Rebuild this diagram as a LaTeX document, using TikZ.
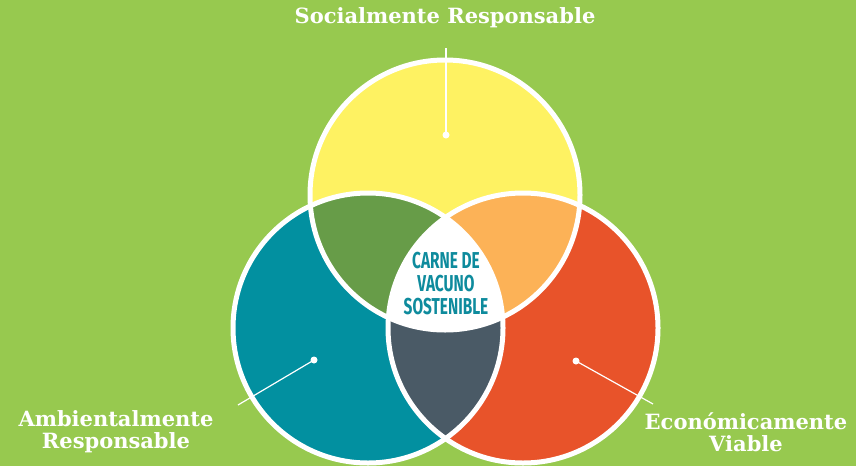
\documentclass[tikz,border=0pt]{standalone}
\usepackage{fontspec}
\setmainfont{DejaVu Serif}
\newfontfamily\condfont{Fira Sans}
\definecolor{bg}{HTML}{97C94F}
\definecolor{cyel}{HTML}{FEF262}
\definecolor{cteal}{HTML}{0290A0}
\definecolor{cred}{HTML}{E8532A}
\definecolor{cdkgreen}{HTML}{679C48}
\definecolor{corange}{HTML}{FCB257}
\definecolor{cslate}{HTML}{4A5A66}
\definecolor{ctext}{HTML}{0E8B9D}
\begin{document}
\begin{tikzpicture}[x=1pt,y=-1pt,
  ring/.style={draw=white,line width=5pt},
  label/.style={text=white,font=\bfseries\fontsize{21}{22}\selectfont,align=center,inner sep=0pt},
  center text/.style={text=ctext,inner sep=0pt,font=\condfont\bfseries\fontsize{23}{23}\selectfont},
  leader/.style={draw=white,line width=1.2pt},
  dot/.style={circle,fill=white,inner sep=0pt,minimum size=7pt}]
\useasboundingbox (0,0) rectangle (856,466);
\fill[bg] (0,0) rectangle (856,466);
\coordinate (T) at (445,195);
\coordinate (L) at (368,328);
\coordinate (R) at (523,328);
\def\rad{135}
\fill[cyel] (T) circle (\rad);
\fill[cteal] (L) circle (\rad);
\fill[cred] (R) circle (\rad);
\begin{scope}
  \clip (T) circle (\rad);
  \fill[cdkgreen] (L) circle (\rad);
  \fill[corange] (R) circle (\rad);
\end{scope}
\begin{scope}
  \clip (L) circle (\rad);
  \fill[cslate] (R) circle (\rad);
  \clip (R) circle (\rad);
  \fill[white] (T) circle (\rad);
\end{scope}
\draw[ring] (T) circle (\rad);
\draw[ring] (L) circle (\rad);
\draw[ring] (R) circle (\rad);
% leaders
\node[dot] (dT) at (446,135) {};
\node[dot] (dL) at (314,360) {};
\node[dot] (dR) at (576,361) {};
\coordinate (eT) at (446,48);
\coordinate (eL) at (238,405);
\coordinate (eR) at (653,404);
\draw[leader] (dT.center) -- (eT);
\draw[leader] (dL.center) -- (eL);
\draw[leader] (dR.center) -- (eR);
% labels
\node[label] (tS) at (445,18) {Socialmente Responsable};
\node[label] (tA) at (116,432) {Ambientalmente\\Responsable};
\node[label] (tE) at (746,432) {Económicamente\\Viable};
\node[center text] (c1) at (446,261) {\scalebox{0.67}[1]{CARNE DE}};
\node[center text] (c2) at (446,284) {\scalebox{0.67}[1]{VACUNO}};
\node[center text] (c3) at (446,307) {\scalebox{0.67}[1]{SOSTENIBLE}};
\end{tikzpicture}
\end{document}
